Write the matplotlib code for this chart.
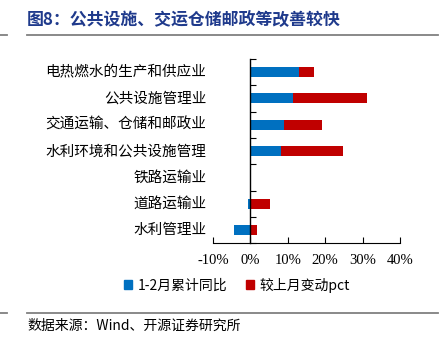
import matplotlib
matplotlib.use("Agg")
import matplotlib.pyplot as plt
from matplotlib.lines import Line2D
from matplotlib.patches import Patch
import numpy as np

plt.rcParams['font.family'] = ['Noto Sans CJK SC', 'DejaVu Sans']

categories = ["电热燃水的生产和供应业", "公共设施管理业", "交通运输、仓储和邮政业",
              "水利环境和公共设施管理", "铁路运输业", "道路运输业", "水利管理业"]
ytd_growth = [13.0, 11.4, 9.0, 8.2, 0.0, -0.7, -4.4]      # 1-2月累计同比 (%)
mom_change = [3.9, 19.8, 10.2, 16.6, 0.0, 5.3, 1.8]       # 较上月变动pct
x_ticks = [-10, 0, 10, 20, 30, 40]
x_ticklabels = ["-10%", "0%", "10%", "20%", "30%", "40%"]

BLUE = "#0070C0"
RED = "#C00000"
NAVY = "#1F3A8C"
GRAY = "#808080"

W, H = 443, 340
fig = plt.figure(figsize=(W / 100, H / 100), dpi=100)
ax = fig.add_axes([213 / W, 1 - 243.3 / H, (400 - 213) / W, (243.3 - 59) / H])

n = len(categories)
y = np.arange(n)[::-1]
bh = 0.38
ytd = np.array(ytd_growth)
mom = np.array(mom_change)
ax.barh(y, ytd, height=bh, color=BLUE, label="1-2月累计同比")
ax.barh(y, mom, left=np.clip(ytd, 0, None), height=bh, color=RED, label="较上月变动pct")

ax.set_xlim(-10, 40)
ax.set_ylim(-0.5, n - 0.5)
ax.set_xticks(x_ticks)
ax.set_xticklabels(x_ticklabels, family=["Liberation Serif"], fontsize=10.5)
ax.tick_params(axis="x", direction="in", length=4, width=0.8, pad=8, colors="black")

# vertical axis drawn at zero, ticks at category boundaries
for s in ["top", "right"]:
    ax.spines[s].set_visible(False)
ax.spines["left"].set_position(("data", 0))
ax.spines["left"].set_linewidth(1.0)
ax.spines["bottom"].set_linewidth(0.8)
ax.set_yticks(np.arange(-0.5, n, 1.0))
ax.set_yticklabels([])
ax.tick_params(axis="y", direction="in", length=4, width=0.8)

for yi, name in zip(y, categories):
    ax.text(-0.035, yi, name, transform=ax.get_yaxis_transform(), ha="right",
            va="center", fontsize=10.5)

handles = [Patch(color=BLUE), Patch(color=RED)]
fig.legend(handles, ["1-2月累计同比", "较上月变动pct"], loc="center",
           bbox_to_anchor=(237 / W, 1 - 285 / H), ncol=2, frameon=False,
           handlelength=0.6, handleheight=0.6, handletextpad=0.4,
           columnspacing=1.3, prop={"family": ["Noto Sans CJK SC", "Liberation Serif"], "size": 10})

fig.text(27 / W, 1 - 20 / H, "图8：公共设施、交运仓储邮政等改善较快", fontsize=12.2,
         fontweight="bold", color=NAVY, ha="left", va="center")

for yy in (35, 313):
    fig.add_artist(Line2D([27 / W, 438 / W], [1 - yy / H] * 2, color=GRAY, lw=1.3))
    fig.add_artist(Line2D([0, 7 / W], [1 - yy / H] * 2, color=GRAY, lw=1.3))

fig.text(27 / W, 1 - 326 / H, "数据来源：Wind、开源证券研究所", fontsize=10,
         ha="left", va="center", family=["Noto Sans CJK SC", "Liberation Serif"])

fig.savefig("out.png", dpi=100)
